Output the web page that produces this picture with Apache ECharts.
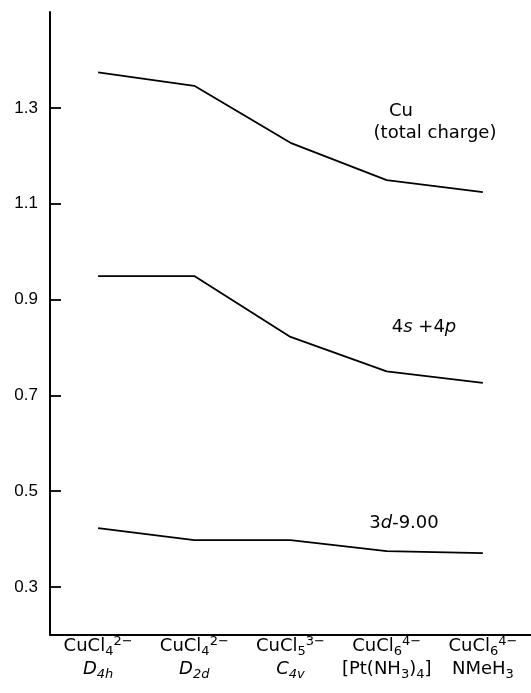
<!DOCTYPE html>
<html>
<head>
<meta charset="utf-8">
<script src="https://cdn.jsdelivr.net/npm/echarts@6/dist/echarts.min.js"></script>
<style>
  html, body { margin: 0; padding: 0; background: #fff; }
  #chart { width: 531px; height: 693px; }
</style>
</head>
<body>
<div id="chart"></div>
<script>
// complexes along the x axis (rich text: formula + symmetry / counter-ion)
const categories = [
  'CuCl{sb|4}{sp|2−}\n{i|D}{isb|4h}',
  'CuCl{sb|4}{sp|2−}\n{i|D}{isb|2d}',
  'CuCl{sb|5}{sp|3−}\n{i|C}{isb|4v}',
  'CuCl{sb|6}{sp|4−}\n[Pt(NH{sb|3}){sb|4}]',
  'CuCl{sb|6}{sp|4−}\nNMeH{sb|3}'
];
// charges
const totalCharge = [1.374, 1.346, 1.227, 1.149, 1.124];
const s4p4 = [0.949, 0.949, 0.822, 0.750, 0.726];
const d3 = [0.423, 0.398, 0.398, 0.375, 0.371];
const yTicks = [0.3, 0.5, 0.7, 0.9, 1.1, 1.3];

const ink = '#000';
const font = 'DejaVu Sans';

const chart = echarts.init(document.getElementById('chart'));

function lineSeries(name, data) {
  return {
    name: name,
    type: 'line',
    data: data,
    symbol: 'none',
    silent: true,
    lineStyle: { color: ink, width: 1.8 }
  };
}

const labelRich = {
  sb: { fontSize: 13, fontFamily: font, color: ink, lineHeight: 13, verticalAlign: 'bottom' },
  sp: { fontSize: 13, fontFamily: font, color: ink, lineHeight: 14, verticalAlign: 'top' },
  i: { fontSize: 18, fontFamily: font, fontStyle: 'italic', color: ink, lineHeight: 23 },
  isb: { fontSize: 13, fontFamily: font, fontStyle: 'italic', color: ink, lineHeight: 13, verticalAlign: 'bottom' }
};

const option = {
  animation: false,
  backgroundColor: '#fff',
  grid: { left: 50, right: 0, top: 12, bottom: 58 },
  xAxis: {
    type: 'category',
    data: categories,
    boundaryGap: true,
    axisLine: { lineStyle: { color: ink, width: 2 } },
    axisTick: { inside: true, length: 11, alignWithLabel: true, lineStyle: { color: ink, width: 1.8 } },
    axisLabel: {
      interval: 0,
      margin: 0,
      color: ink,
      fontFamily: font,
      fontSize: 18,
      lineHeight: 23,
      rich: labelRich
    },
    splitLine: { show: false }
  },
  yAxis: {
    type: 'value',
    min: 0.2,
    max: 1.5,
    axisLine: { show: true, lineStyle: { color: ink, width: 2 } },
    axisTick: { show: true, inside: true, length: 11, customValues: yTicks, lineStyle: { color: ink, width: 1.8 } },
    axisLabel: {
      customValues: yTicks,
      formatter: v => v.toFixed(1),
      margin: 12,
      color: ink,
      fontFamily: 'Liberation Sans',
      fontSize: 17
    },
    splitLine: { show: false }
  },
  series: [
    lineSeries('Cu (total charge)', totalCharge),
    lineSeries('4s + 4p', s4p4),
    lineSeries('3d - 9.00', d3)
  ],
  graphic: [
    { type: 'text', x: 401, y: 111, style: { text: 'Cu', font: '18px ' + font, fill: ink, align: 'center', verticalAlign: 'middle' } },
    { type: 'text', x: 435, y: 133, style: { text: '(total charge)', font: '18px ' + font, fill: ink, align: 'center', verticalAlign: 'middle' } },
    { type: 'text', x: 424, y: 327, style: {
        text: '4{i|s} +4{i|p}', font: '18px ' + font, fill: ink, align: 'center', verticalAlign: 'middle',
        rich: { i: { fontStyle: 'italic', fontSize: 18, fontFamily: font, fill: ink } }
    } },
    { type: 'text', x: 404, y: 523, style: {
        text: '3{i|d}-9.00', font: '18px ' + font, fill: ink, align: 'center', verticalAlign: 'middle',
        rich: { i: { fontStyle: 'italic', fontSize: 18, fontFamily: font, fill: ink } }
    } }
  ]
};

chart.setOption(option);
</script>
</body>
</html>
